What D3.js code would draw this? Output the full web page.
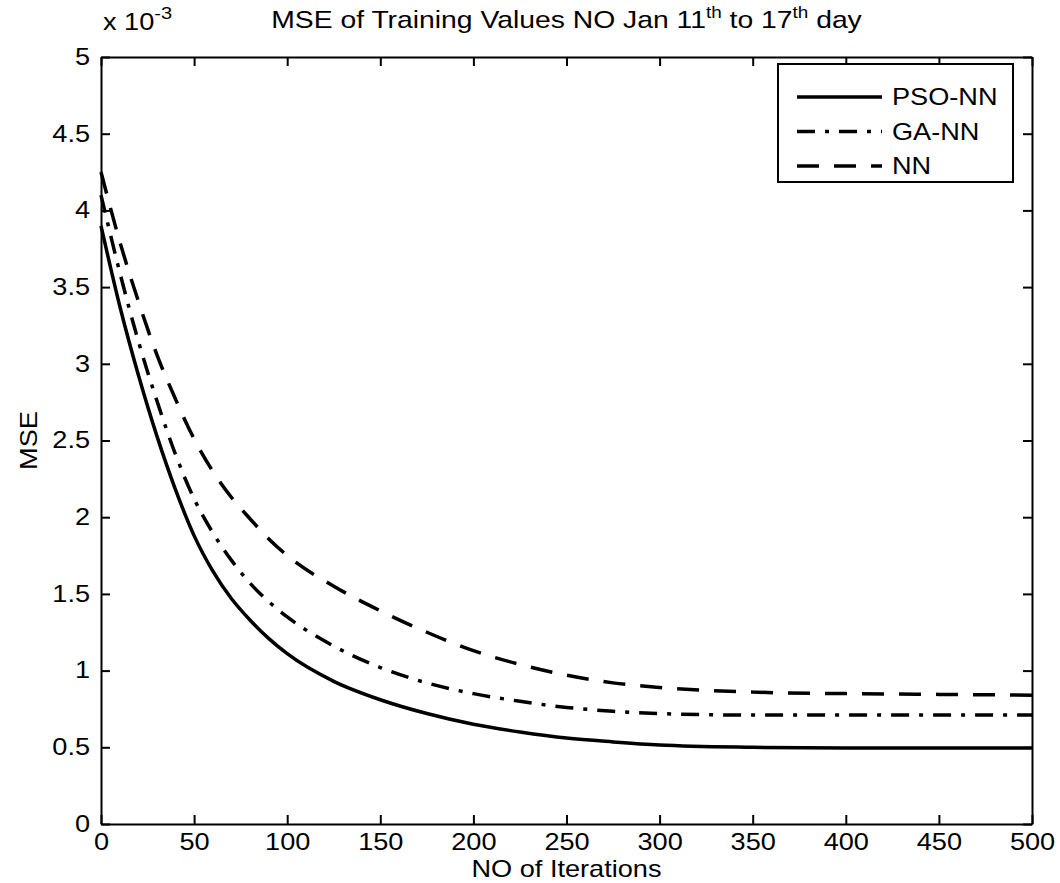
<!DOCTYPE html>
<html>
<head>
<meta charset="utf-8">
<script src="https://cdn.jsdelivr.net/npm/d3@7"></script>
<style>
  html, body { margin: 0; padding: 0; background: #fff; }
  svg { display: block; }
  text { font-family: "Liberation Sans", Arial, sans-serif; fill: #000; }
</style>
</head>
<body>
<div id="chart"></div>
<script>
// values, MSE in units of 1e-3
const iterations = [0, 10, 20, 30, 40, 50, 60, 70, 80, 90, 100, 125, 150, 175, 200, 225, 250, 275, 300, 350, 400, 450, 500];
const psoNN = [3.9, 3.38, 2.93, 2.53, 2.18, 1.88, 1.65, 1.47, 1.33, 1.21, 1.11, 0.93, 0.81, 0.72, 0.65, 0.6, 0.56, 0.535, 0.515, 0.5, 0.495, 0.495, 0.495];
const gaNN = [4.1, 3.6, 3.15, 2.76, 2.41, 2.12, 1.9, 1.72, 1.57, 1.45, 1.35, 1.16, 1.02, 0.92, 0.85, 0.8, 0.76, 0.735, 0.72, 0.71, 0.71, 0.71, 0.71];
const nn = [4.25, 3.8, 3.41, 3.06, 2.77, 2.51, 2.3, 2.13, 1.99, 1.86, 1.75, 1.55, 1.39, 1.25, 1.13, 1.04, 0.97, 0.92, 0.89, 0.86, 0.85, 0.845, 0.84];
const seriesNames = ["PSO-NN", "GA-NN", "NN"];
const xTicks = [0, 50, 100, 150, 200, 250, 300, 350, 400, 450, 500];
const yTicks = [0, 0.5, 1, 1.5, 2, 2.5, 3, 3.5, 4, 4.5, 5];

const width = 1060, height = 883;
const margin = { top: 57, right: 28, bottom: 59, left: 101 };
const sx = 1.18; // the old matlab font is wide and short

const svg = d3.select("#chart").append("svg")
  .attr("width", width)
  .attr("height", height);

const x = d3.scaleLinear().domain([0, 500]).range([margin.left, width - margin.right]);
const y = d3.scaleLinear().domain([0, 5]).range([height - margin.bottom, margin.top]);

const tick = 9;

// text placed with a horizontal stretch
const label = (parent, px, py, size, anchor = "start", rot = 0) => parent.append("text")
  .attr("transform", `translate(${px},${py}) rotate(${rot}) scale(${sx},1)`)
  .attr("text-anchor", anchor)
  .style("font-size", size + "px");

// axes, ticks point inward like matlab
const styleAxis = g => {
  g.select(".domain").attr("stroke", "#000").attr("stroke-width", 2);
  g.selectAll(".tick line").attr("stroke", "#000").attr("stroke-width", 2);
  g.selectAll(".tick text")
    .style("font-size", "23px")
    .attr("fill", "#000")
    .attr("transform", `scale(${sx},1)`);
};

svg.append("g")
  .attr("transform", `translate(0,${y(0)})`)
  .call(d3.axisBottom(x).tickValues(xTicks).tickSizeInner(-tick).tickSizeOuter(0).tickPadding(10))
  .call(styleAxis);

svg.append("g")
  .attr("transform", `translate(0,${y(5)})`)
  .call(d3.axisTop(x).tickValues(xTicks).tickSizeInner(-tick).tickSizeOuter(0).tickFormat(""))
  .call(styleAxis);

svg.append("g")
  .attr("transform", `translate(${x(0)},0)`)
  .call(d3.axisLeft(y).tickValues(yTicks).tickSizeInner(-tick).tickSizeOuter(0).tickFormat(d => d))
  .call(styleAxis)
  .call(g => g.selectAll(".tick text").attr("x", -11 / sx));

svg.append("g")
  .attr("transform", `translate(${x(500)},0)`)
  .call(d3.axisRight(y).tickValues(yTicks).tickSizeInner(-tick).tickSizeOuter(0).tickFormat(""))
  .call(styleAxis);

// lines
const line = d3.line()
  .x((d, i) => x(iterations[i]))
  .y(d => y(d))
  .curve(d3.curveMonotoneX);

const dashes = [null, "18,10,4,10", "22,15"];
[psoNN, gaNN, nn].forEach((vals, i) => {
  svg.append("path")
    .datum(vals)
    .attr("fill", "none")
    .attr("stroke", "#000")
    .attr("stroke-width", 3.5)
    .attr("stroke-dasharray", dashes[i])
    .attr("d", line);
});

// legend
const legend = svg.append("g").attr("transform", "translate(778,64)");
legend.append("rect")
  .attr("width", 235).attr("height", 118)
  .attr("fill", "#fff").attr("stroke", "#000").attr("stroke-width", 2);
seriesNames.forEach((name, i) => {
  const ly = 33 + i * 34.5;
  legend.append("line")
    .attr("x1", 19).attr("x2", 104).attr("y1", ly).attr("y2", ly)
    .attr("stroke", "#000").attr("stroke-width", 3.5)
    .attr("stroke-dasharray", dashes[i]);
  label(legend, 114, ly + 8, 23).text(name);
});

// title with superscripts
const title = label(svg, (x(0) + x(500)) / 2, 28, 24, "middle");
title.append("tspan").text("MSE of Training Values NO Jan 11");
title.append("tspan").attr("dy", -10).style("font-size", "16px").text("th");
title.append("tspan").attr("dy", 10).text(" to 17");
title.append("tspan").attr("dy", -10).style("font-size", "16px").text("th");
title.append("tspan").attr("dy", 10).text(" day");

// exponent label
const expo = label(svg, 103, 30, 23);
expo.append("tspan").text("x 10");
expo.append("tspan").attr("dy", -11).style("font-size", "17px").text("-3");

// axis labels
label(svg, (x(0) + x(500)) / 2, 877, 23, "middle").text("NO of Iterations");
label(svg, 37, (y(0) + y(5)) / 2, 23, "middle", -90).text("MSE");
</script>
</body>
</html>
